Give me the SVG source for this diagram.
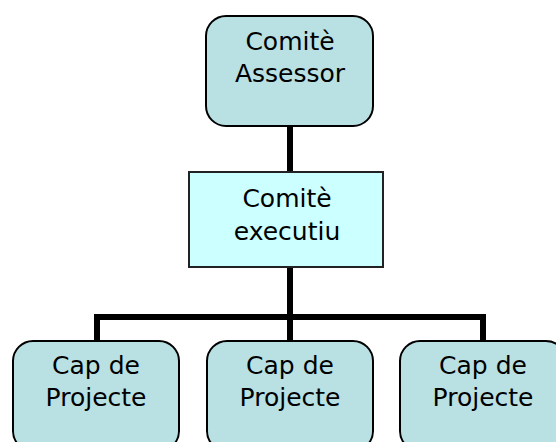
<svg xmlns="http://www.w3.org/2000/svg" width="556" height="442" viewBox="0 0 556 442">
<style>
.rbox{fill:#B9E0E3;stroke:#000;stroke-width:2}
.sbox{fill:#CCFFFF;stroke:#222;stroke-width:2}
.lbl{font-family:"DejaVu Sans",Verdana,sans-serif;font-size:25px;fill:#000;text-anchor:middle}
.conn{stroke:#000;stroke-width:6;fill:none}
</style>
<rect width="556" height="442" fill="#fff"/>
<g id="connectors">
<line class="conn" x1="290" y1="125" x2="290" y2="172"/>
<line class="conn" x1="290" y1="267" x2="290" y2="341"/>
<polyline class="conn" points="97,341 97,317 483,317 483,341"/>
</g>
<g id="node-assessor">
<rect class="rbox" x="206" y="16" width="167" height="110" rx="20" ry="20"/>
<text class="lbl" x="290" y="50">Comitè</text>
<text class="lbl" x="290" y="82">Assessor</text>
</g>
<g id="node-executiu">
<rect class="sbox" x="189" y="172" width="194" height="95"/>
<text class="lbl" x="287" y="207">Comitè</text>
<text class="lbl" x="287" y="240">executiu</text>
</g>
<g id="node-cap1">
<rect class="rbox" x="13" y="341" width="166" height="110" rx="20" ry="20"/>
<text class="lbl" x="96" y="374">Cap de</text>
<text class="lbl" x="96" y="406">Projecte</text>
</g>
<g id="node-cap2">
<rect class="rbox" x="207" y="341" width="166" height="110" rx="20" ry="20"/>
<text class="lbl" x="290" y="374">Cap de</text>
<text class="lbl" x="290" y="406">Projecte</text>
</g>
<g id="node-cap3">
<rect class="rbox" x="400" y="341" width="166" height="110" rx="20" ry="20"/>
<text class="lbl" x="483" y="374">Cap de</text>
<text class="lbl" x="483" y="406">Projecte</text>
</g>
</svg>
